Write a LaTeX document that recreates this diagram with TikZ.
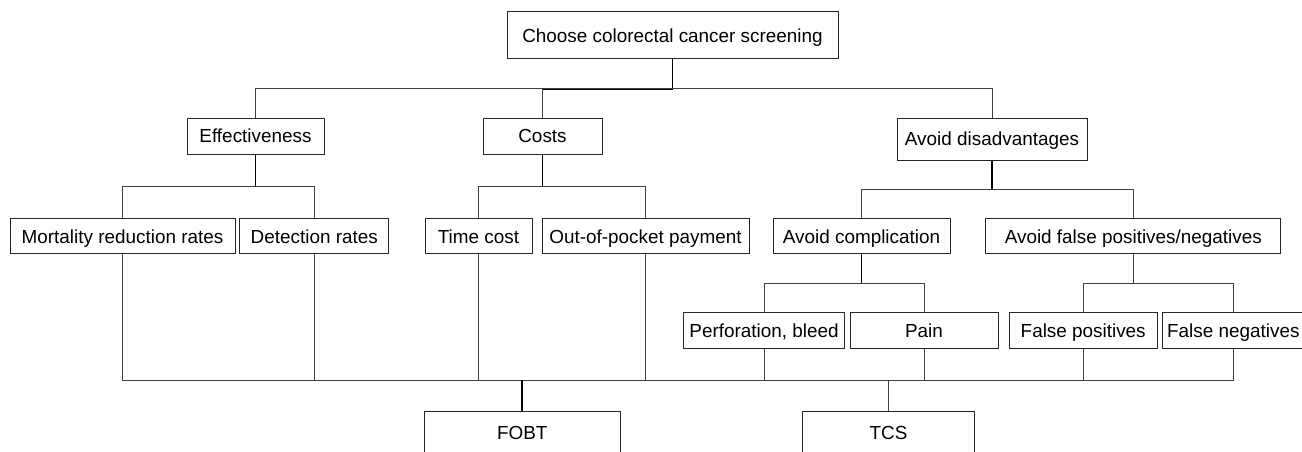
\documentclass[tikz,border=0pt]{standalone}
\usepackage{fontspec}
\setmainfont{Liberation Sans}
\tikzset{
  box/.style={draw=black!85, line width=1pt, inner sep=0pt, text height=13.5pt, text depth=0pt, font=\fontsize{18.9}{22}\selectfont},
  link/.style={line width=1pt, color=black!75},
  stem/.style={line width=1.8pt, color=black}
}
\begin{document}
\begin{tikzpicture}[x=1pt, y=-1pt]
	%%%%% START %%%%%
	\useasboundingbox (0,0) rectangle (1302,452);
	\clip (0,0) rectangle (1302,452);
	
	\node[box, minimum width=331pt, minimum height=47pt] (root) at (672.5, 35.5) {Choose colorectal cancer screening};
	
	\node[box, minimum width=137pt, minimum height=36pt] (eff) at (255.5, 136) {Effectiveness};
	\node[box, minimum width=119pt, minimum height=36pt] (cost) at (542.5, 136) {Costs};
	\node[box, minimum width=190pt, minimum height=42pt] (avoid) at (992, 139) {Avoid disadvantages};
	
	\node[box, minimum width=225pt, minimum height=35.3pt] (mort) at (122.5, 236.3) {Mortality reduction rates};
	\node[box, minimum width=148.7pt, minimum height=35.3pt] (detect) at (314.3, 236.3) {Detection rates};
	\node[box, minimum width=107pt, minimum height=35.3pt] (time) at (478.5, 236.3) {Time cost};
	\node[box, minimum width=207pt, minimum height=35.3pt] (oop) at (645.5, 236.3) {Out-of-pocket payment};
	\node[box, minimum width=177pt, minimum height=35.3pt] (comp) at (861.5, 236.3) {Avoid complication};
	\node[box, minimum width=295.3pt, minimum height=35.3pt] (fpn) at (1133.3, 236.3) {Avoid false positives/negatives};
	
	\node[box, minimum width=160.6pt, minimum height=36.3pt] (perf) at (764, 330.8) {Perforation, bleed};
	\node[box, minimum width=148pt, minimum height=36.3pt] (pain) at (924, 330.8) {Pain};
	\node[box, minimum width=147.7pt, minimum height=36.3pt] (fp) at (1083.2, 330.8) {False positives};
	\node[box, minimum width=141.2pt, minimum height=36.3pt] (fn) at (1233.3, 330.8) {False negatives};
	
	\node[box, minimum width=195.7pt, minimum height=42pt] (fobt) at (522.2, 432.7) {FOBT};
	\node[box, minimum width=171.6pt, minimum height=42pt] (tcs) at (888.5, 432.7) {TCS};
	
	\coordinate (bar1) at (0, 89);
	\coordinate (bar2) at (0, 186);
	\coordinate (bar3) at (0, 189);
	\coordinate (bar4) at (0, 283);
	\coordinate (bar5) at (0, 380);
	
	\draw[stem] (root.south) -- (root.south |- bar1) -- (cost.north |- bar1);
	\draw[link] (eff.north) -- (eff.north |- bar1) -- (avoid.north |- bar1) -- (avoid.north);
	\draw[link] (cost.north |- bar1) -- (cost.north);
	
	\draw[stem] (eff.south) -- (eff.south |- bar2);
	\draw[link] (mort.north) -- (mort.north |- bar2) -- (detect.north |- bar2) -- (detect.north);
	\draw[stem] (cost.south) -- (cost.south |- bar2);
	\draw[link] (time.north) -- (time.north |- bar2) -- (oop.north |- bar2) -- (oop.north);
	\draw[stem] (avoid.south) -- (avoid.south |- bar3);
	\draw[link] (comp.north) -- (comp.north |- bar3) -- (fpn.north |- bar3) -- (fpn.north);
	
	\draw[stem] (comp.south) -- (comp.south |- bar4);
	\draw[link] (perf.north) -- (perf.north |- bar4) -- (pain.north |- bar4) -- (pain.north);
	\draw[link] (fpn.south) -- (fpn.south |- bar4);
	\draw[link] (fp.north) -- (fp.north |- bar4) -- (fn.north |- bar4) -- (fn.north);
	
	\draw[link] (mort.south) -- (mort.south |- bar5) -- (fn.south |- bar5) -- (fn.south);
	\foreach \n in {detect, time, oop, perf, pain, fp}
		\draw[link] (\n.south) -- (\n.south |- bar5);
	
	\draw[stem] (fobt.north) -- (fobt.north |- bar5);
	\draw[link] (tcs.north) -- (tcs.north |- bar5);
	%%%%% END %%%%%
\end{tikzpicture}
\end{document}
